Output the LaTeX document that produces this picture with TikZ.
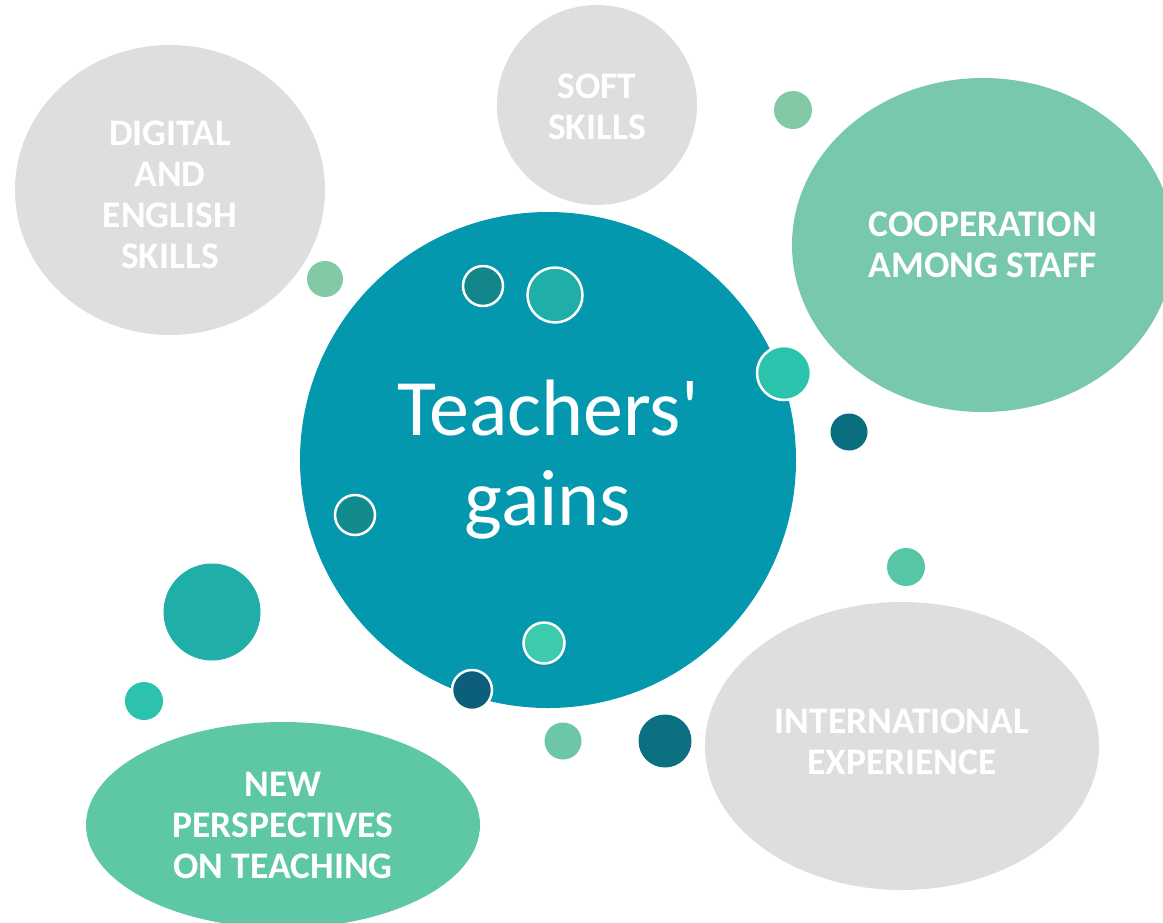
\documentclass[tikz,border=0pt]{standalone}
\usepackage{fontspec}
\setmainfont{Carlito}
\usepackage{tikz}
\usetikzlibrary{shapes, positioning, calc}
\definecolor{mainteal}{RGB}{3,152,174}
\definecolor{bubblegrey}{RGB}{222,222,222}
\definecolor{coopgreen}{RGB}{120,200,171}
\definecolor{newgreen}{RGB}{94,199,166}
\definecolor{dotsage}{RGB}{132,201,166}
\definecolor{dotteal}{RGB}{18,134,138}
\definecolor{dotjade}{RGB}{31,174,168}
\definecolor{dotaqua}{RGB}{43,195,171}
\definecolor{dotdark}{RGB}{10,110,126}
\definecolor{dotmint}{RGB}{62,203,173}
\definecolor{dotnavy}{RGB}{11,95,120}
\definecolor{dotpale}{RGB}{110,198,168}

\tikzset{
  bubble/.style={ellipse, inner sep=0pt},
  bubbletext/.style={text=white, align=center, inner sep=0pt,
    font=\fontsize{37.5}{41}\selectfont\bfseries},
  dot/.style={circle, inner sep=0pt, minimum size=#1},
  rimdot/.style={circle, inner sep=0pt, minimum size=#1, draw=white, line width=2.5pt}
}

\begin{document}
\begin{tikzpicture}[x=1pt, y=-1pt]
\useasboundingbox (0,0) rectangle (1163,922);
\clip (0,0) rectangle (1163,922);

% outer bubbles
\node[bubble, fill=bubblegrey, minimum width=310, minimum height=290] (digital) at (170,190) {};
\node[bubble, fill=bubblegrey, minimum width=200, minimum height=200] (soft) at (597,105) {};
\node[bubble, fill=coopgreen, minimum width=382, minimum height=334] (coop) at (983,245) {};
\node[bubble, fill=bubblegrey, minimum width=394, minimum height=288] (intl) at (902,746) {};
\node[bubble, fill=newgreen, minimum width=394, minimum height=206] (newp) at (283,825) {};

\node[bubbletext] (digital-text) at ($(digital.center)+(0,5)$) {DIGITAL\\AND\\ENGLISH\\SKILLS};
\node[bubbletext] (soft-text) at ($(soft.center)+(0,2)$) {SOFT\\SKILLS};
\node[bubbletext] (coop-text) at (coop.center) {COOPERATION\\AMONG STAFF};
\node[bubbletext] (intl-text) at ($(intl.center)+(0,-4)$) {INTERNATIONAL\\EXPERIENCE};
\node[bubbletext] (newp-text) at (newp.center) {NEW\\PERSPECTIVES\\ON TEACHING};

% centre
\node[circle, fill=mainteal, minimum size=496, inner sep=0pt, text=white, align=center,
  font=\fontsize{80}{90}\selectfont] (gains) at (548,460) {Teachers\textquotesingle\\gains};

% small dots
\node[dot=36, fill=dotsage] (d1) at (325,279) {};
\node[rimdot=40, fill=dotteal] (d2) at (483,286) {};
\node[rimdot=55, fill=dotjade] (d3) at (555,295) {};
\node[rimdot=54, fill=dotaqua] (d4) at (784,373) {};
\node[dot=37, fill=dotdark] (d5) at (849,432) {};
\node[rimdot=40, fill=dotteal!90!dotjade] (d6) at (355,515) {};
\node[dot=97, fill=dotjade] (d7) at (212,612) {};
\node[dot=38, fill=dotaqua] (d8) at (144,701) {};
\node[rimdot=41, fill=dotmint] (d9) at (544,643) {};
\node[rimdot=40, fill=dotnavy] (d10) at (472,690) {};
\node[dot=37, fill=dotpale] (d11) at (563,741) {};
\node[dot=53, fill=dotdark!90!dotteal] (d12) at (665,741) {};
\node[dot=38, fill=newgreen!85!dotaqua] (d13) at (906,567) {};
\node[dot=38, fill=dotsage] (d14) at (793,110) {};

\end{tikzpicture}
\end{document}
